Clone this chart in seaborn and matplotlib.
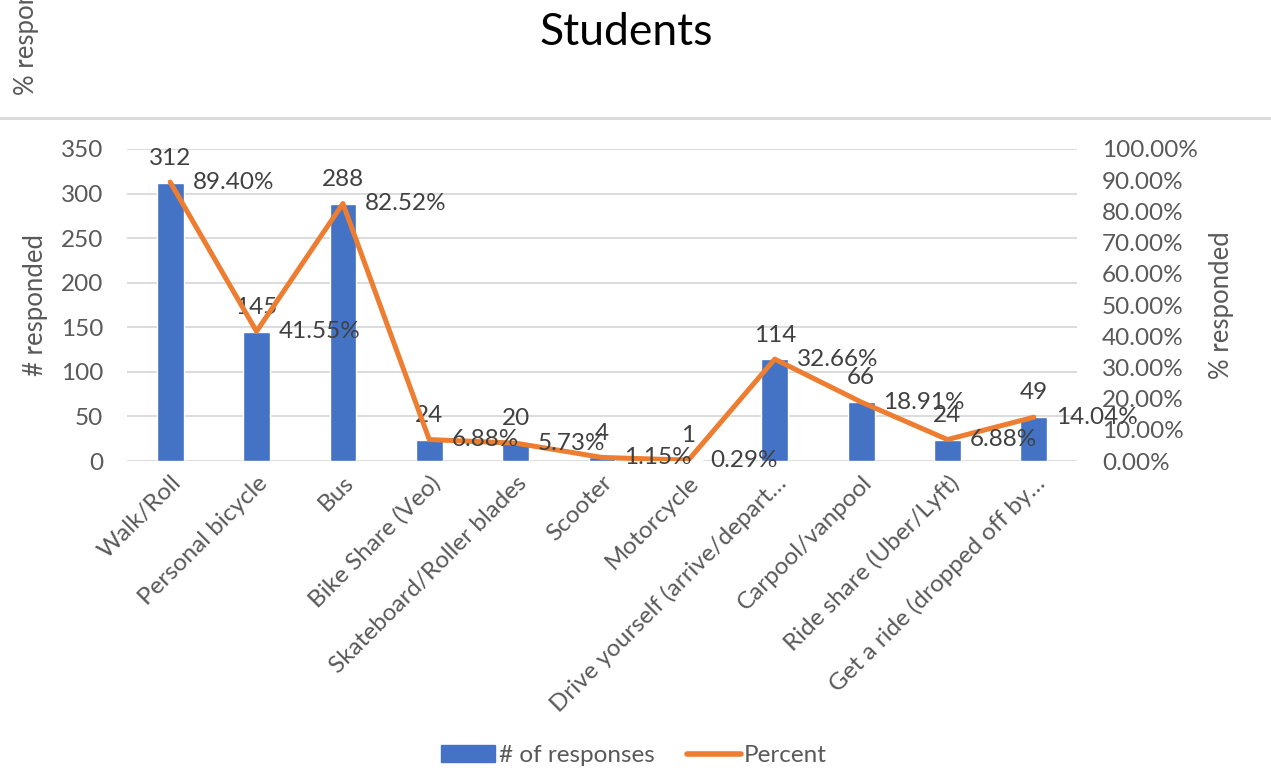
import numpy as np
import pandas as pd
import matplotlib.pyplot as plt
import seaborn as sns
from matplotlib.lines import Line2D
from matplotlib.patches import Patch

# data
modes = ["Walk/Roll", "Personal bicycle", "Bus", "Bike Share (Veo)",
         "Skateboard/Roller blades", "Scooter", "Motorcycle",
         "Drive yourself (arrive/depart\u2026", "Carpool/vanpool",
         "Ride share (Uber/Lyft)", "Get a ride (dropped off by\u2026"]
responses = [312, 145, 288, 24, 20, 4, 1, 114, 66, 24, 49]
percent = [89.40, 41.55, 82.52, 6.88, 5.73, 1.15, 0.29, 32.66, 18.91, 6.88, 14.04]
left_ticks = [0, 50, 100, 150, 200, 250, 300, 350]
right_ticks = [0, 10, 20, 30, 40, 50, 60, 70, 80, 90, 100]

df = pd.DataFrame({"mode": modes, "responses": responses, "percent": percent})
df["pos"] = np.arange(len(df))

sns.set_style("white")
plt.rcParams["font.family"] = ["Lato", "DejaVu Sans"]
grey = "#595959"
blue = "#4472C4"
orange = "#ED7D31"
fs = 17.5

fig = plt.figure(figsize=(12.71, 7.68), dpi=100)
ax = fig.add_axes([0.0999, 0.3997, 0.7475, 0.4063])

sns.barplot(data=df, x="mode", y="responses", color=blue, width=0.31,
            saturation=1, ax=ax, zorder=2)
ax.set_ylim(0, 350)
ax.set_yticks(left_ticks)
ax.yaxis.grid(True, color="#D9D9D9", lw=1.3, zorder=0)
ax.set_axisbelow(True)
for s in ax.spines.values():
    s.set_visible(False)
ax.tick_params(axis="both", length=0, colors=grey, labelsize=fs)
ax.tick_params(axis="y", pad=17)
ax.tick_params(axis="x", pad=8)
ax.set_xticks(df["pos"])
ax.set_xticklabels(modes, rotation=45, ha="right", rotation_mode="anchor")
ax.set_xlabel("")
ax.set_ylabel("# responded", fontsize=18.5, color=grey, labelpad=9)

for p, v in zip(df["pos"], responses):
    ax.annotate(str(v), (p, v), xytext=(0, 10), textcoords="offset points",
                ha="center", va="bottom", fontsize=fs, color="#404040")

ax2 = ax.twinx()
sns.lineplot(data=df, x="pos", y="percent", color=orange, lw=3.6, ax=ax2,
             sort=False)
ax2.set_ylim(0, 100)
ax2.set_yticks(right_ticks)
ax2.set_yticklabels([f"{t:.2f}%" for t in right_ticks])
ax2.set_xlim(-0.5, len(df) - 0.5)
for s in ax2.spines.values():
    s.set_visible(False)
ax2.tick_params(axis="y", length=0, colors=grey, labelsize=fs, pad=18)
ax2.set_ylabel("% responded", fontsize=18.5, color=grey, labelpad=8)
ax2.set_xlabel("")

for p, v in zip(df["pos"], percent):
    ax2.annotate(f"{v:.2f}%", (p, v), xytext=(16, 0), textcoords="offset points",
                 ha="left", va="center", fontsize=fs, color="#404040")

fig.text(0.493, 0.958, "Students", ha="center", va="center", fontsize=32,
         color="black")
fig.add_artist(Line2D([0, 1], [1 - 118 / 768] * 2, color="#D9D9D9", lw=2))
fig.text(0.021, 1 - 95 / 768, "% responded", rotation=90, ha="center",
         va="bottom", fontsize=18.5, color=grey)

handles = [Patch(color=blue), Line2D([], [], color=orange, lw=4, solid_capstyle="round")]
fig.legend(handles, ["# of responses", "Percent"], loc="center",
           bbox_to_anchor=(0.499, 0.016), ncol=2, frameon=False, fontsize=fs,
           labelcolor=grey, handlelength=2.2, handletextpad=0.15, columnspacing=1.35)

fig.savefig("out.png", dpi=100)
